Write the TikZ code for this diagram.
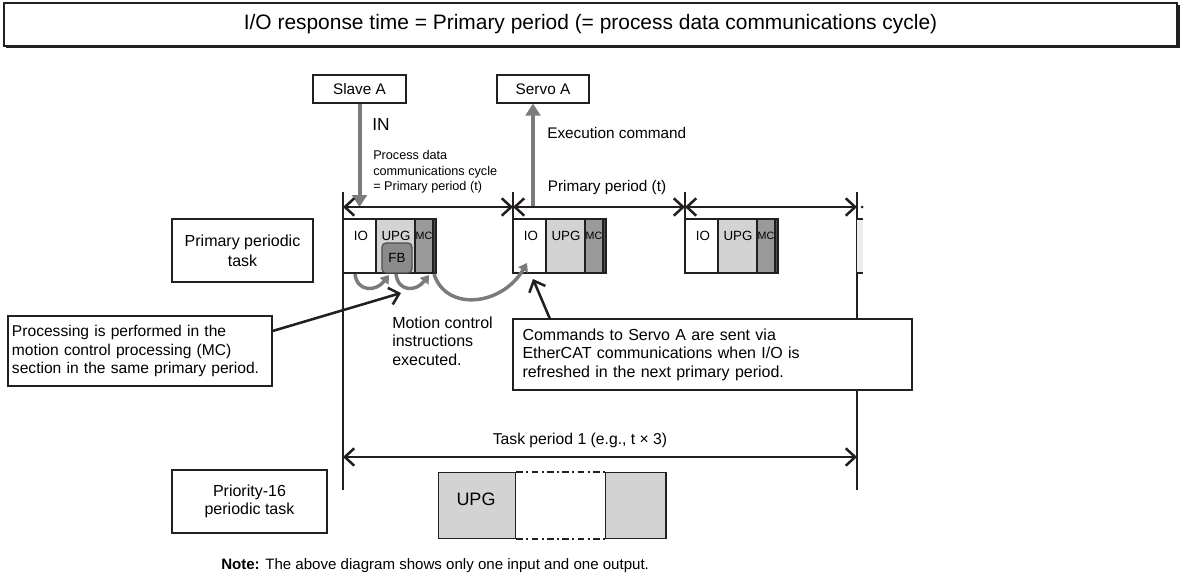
\documentclass[tikz,border=0pt]{standalone}
\usepackage{fontspec}
\setmainfont{Liberation Sans}
\usetikzlibrary{positioning,arrows.meta}
\definecolor{InkBlack}{HTML}{231F20}
\definecolor{UpgGray}{HTML}{D3D3D3}
\definecolor{McGray}{HTML}{9A9A9A}
\definecolor{FbGray}{HTML}{8A8A8A}
\definecolor{FlowGray}{HTML}{7B7B7B}
\definecolor{PaleGray}{HTML}{EDEDED}
\newdimen\pxu \pxu=0.75pt

\begin{document}
\begin{tikzpicture}[x=0.75pt,y=-0.75pt,
    txtbox/.style={draw=InkBlack,line width=0.9pt,fill=white,inner sep=0pt,font=\fontsize{12}{14}\selectfont},
    period/.style={draw=InkBlack,line width=1.9pt,{Straight Barb[length=7pt,width=13pt]}-{Straight Barb[length=7pt,width=13pt]}},
    pointer/.style={draw=InkBlack,line width=1.9pt,-{Straight Barb[length=7pt,width=13pt]}},
    flow/.style={draw=FlowGray,line width=3pt,-{Triangle[length=9pt,width=11pt]}},
    loopflow/.style={draw=FlowGray,line width=2.6pt,-{Triangle[length=6pt,width=8pt]}},
    tick/.style={draw=InkBlack,line width=1.1pt},
    seg/.style={draw=InkBlack,line width=0.9pt},
    seglbl/.style={font=\fontsize{10}{12}\selectfont,inner sep=0pt}]
    \useasboundingbox (0,0) rectangle (1181,575);
    \fill[InkBlack] (6,5) rectangle (1180,48);
    \node[txtbox,minimum width=1173\pxu,minimum height=43\pxu,font=\fontsize{15.7}{18}\selectfont] (head) at (590.5,24.5) {I/O response time = Primary period (= process data communications cycle)};
    \node[txtbox,minimum width=93\pxu,minimum height=28\pxu,font=\fontsize{11.5}{13}\selectfont] (slave) at (359.5,89) {Slave A};
    \node[txtbox,minimum width=92\pxu,minimum height=28\pxu,font=\fontsize{11.5}{13}\selectfont] (servo) at (543,89) {Servo A};
    \foreach [count=\i] \x/\b in {343/490,513/273,685/273,857/490} {
      \draw[tick] (\x,192) -- (\x,\b);
      \coordinate (t\i) at (\x,207);
    }
    \foreach \s/\n in {343/a,513/b,685/c} {
      \filldraw[seg,fill=white] (\s,219) rectangle +(33,54);
      \filldraw[seg,fill=UpgGray] (\s+33,219) rectangle +(39,54);
      \filldraw[seg,fill=McGray] (\s+72,219) rectangle +(18,54);
      \filldraw[seg,fill=FbGray!60!black] (\s+90,219) rectangle +(3,54);
      \node[seglbl] (io\n) at (\s+18,236) {IO};
      \node[seglbl] (upg\n) at (\s+53,236) {UPG};
      \node[seglbl,font=\fontsize{8}{9}\selectfont] (mc\n) at (\s+81,236) {MC};
    }
    \fill[PaleGray] (857,219) rectangle (863,273);
    \draw[seg] (863,219) -- (857,219) (857,273) -- (863,273);
    \node[draw=InkBlack!80,line width=0.9pt,fill=FbGray,rounded corners=3pt,minimum width=30\pxu,minimum height=30\pxu,inner sep=0pt,font=\fontsize{10}{12}\selectfont] (fb) at (397,258) {FB};
    \coordinate (inpt) at (359.5,207);
    \coordinate (outpt) at (533,208);
    \draw[flow] (slave.south) -- (inpt);
    \draw[flow] (outpt) -- (outpt |- servo.south);
    \node[anchor=west,font=\fontsize{13}{15}\selectfont,inner sep=0pt] (inlbl) at (372,125) {IN};
    \node[anchor=west,font=\fontsize{11.5}{13}\selectfont,inner sep=0pt] (execlbl) at (547,133) {Execution command};
    \node[anchor=west,align=left,font=\fontsize{9.5}{11.6}\selectfont,inner sep=0pt] (pdc) at (373,172) {Process data\\communications cycle\\= Primary period (t)};
    \node[font=\fontsize{11.5}{13}\selectfont,inner sep=0pt] (pplbl) at (607,188) {Primary period (t)};
    \draw[period] (t1) -- (t2);
    \draw[period] (t2) -- (t3);
    \draw[period] (t3) -- (t4);
    \fill[InkBlack] (862,207) circle (1.5);
    \coordinate (iobot) at (355,274);
    \coordinate (fbin) at (389,275);
    \coordinate (fbout) at (396,274);
    \coordinate (mcin) at (429,275);
    \coordinate (mcout) at (434,274);
    \coordinate (iobin) at (527,263);
    \draw[loopflow] (iobot) .. controls (357,292) and (376,292) .. (fbin);
    \draw[loopflow] (fbout) .. controls (398,292) and (416,292) .. (mcin);
    \draw[loopflow] (mcout) .. controls (446,312) and (502,306) .. (iobin);
    \node[txtbox,minimum width=141\pxu,minimum height=63\pxu,align=center,font=\fontsize{12}{15}\selectfont] (ppt) at (242.5,250.5) {Primary periodic\\task};
    \node[txtbox,minimum width=264\pxu,minimum height=70\pxu,text width=256\pxu,align=left,font=\fontsize{11.7}{13.9}\selectfont] (proc) at (140,351) {Processing is performed in the\\motion control processing (MC)\\section in the same primary period.};
    \node[anchor=west,align=left,inner sep=0pt,font=\fontsize{12}{13.9}\selectfont] (mcnote) at (392,341) {Motion control\\instructions\\executed.};
    \node[txtbox,minimum width=399\pxu,minimum height=71\pxu,text width=380\pxu,align=left,font=\fontsize{12}{13.9}\selectfont] (cmd) at (712.5,354.5) {Commands to Servo A are sent via\\EtherCAT communications when I/O is\\refreshed in the next primary period.};
    \coordinate (mcpt) at (401,293);
    \coordinate (iopt) at (533,279);
    \draw[pointer] ([yshift=15pt]proc.east) -- (mcpt);
    \draw[pointer] ([xshift=28pt]cmd.north west) -- (iopt);
    \coordinate (u1) at (343,457);
    \coordinate (u2) at (857,457);
    \draw[period] (u1) -- (u2);
    \node[font=\fontsize{11.8}{14}\selectfont,inner sep=0pt] (tplbl) at (580,440) {Task period 1 (e.g., t × 3)};
    \node[txtbox,minimum width=155\pxu,minimum height=63\pxu,align=center,font=\fontsize{12}{14}\selectfont] (p16) at (249.5,501.5) {Priority-16\\periodic task};
    \node[seg,fill=UpgGray,minimum width=77\pxu,minimum height=66\pxu,anchor=north west,inner sep=0pt] (upgl) at (438,472) {};
    \node[seg,fill=UpgGray,minimum width=60\pxu,minimum height=66\pxu,anchor=north west,inner sep=0pt] (upgr) at (605,472) {};
    \draw[InkBlack,line width=1.6pt] (upgr.north east) -- (upgr.south east);
    \node[font=\fontsize{13.5}{15}\selectfont,inner sep=0pt] (upgtxt) at (476,499) {UPG};
    \draw[InkBlack,line width=1.4pt,dash pattern=on 5pt off 2.5pt on 1.5pt off 2.5pt] (upgl.north east) -- (upgr.north west) (upgl.south east) -- (upgr.south west);
    \node[anchor=west,font=\fontsize{11.3}{13}\selectfont,inner sep=0pt] (note) at (221,566) {\textbf{Note:} The above diagram shows only one input and one output.};
\end{tikzpicture}
\end{document}
